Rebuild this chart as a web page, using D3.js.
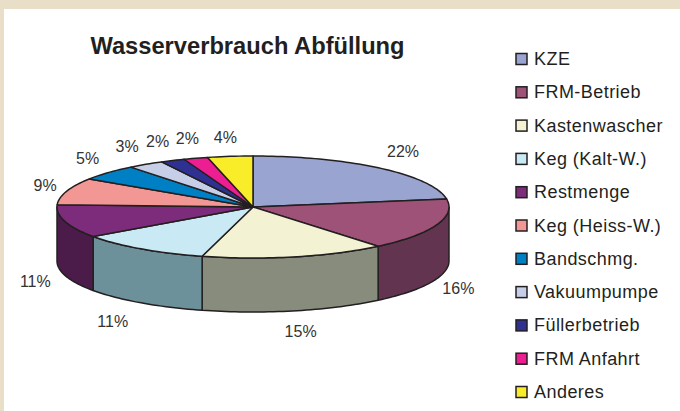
<!DOCTYPE html>
<html>
<head>
<meta charset="utf-8">
<title>Wasserverbrauch Abfüllung</title>
<script src="https://d3js.org/d3.v7.min.js"></script>
<style>
  html, body { margin: 0; padding: 0; background: #fff; }
  svg { display: block; }
  text { font-family: "Liberation Sans", Arial, sans-serif; fill: #231f20; }
</style>
</head>
<body>
<script>
// categories and shares
var categories = ["KZE", "FRM-Betrieb", "Kastenwascher", "Keg (Kalt-W.)", "Restmenge", "Keg (Heiss-W.)",
                  "Bandschmg.", "Vakuumpumpe", "Füllerbetrieb", "FRM Anfahrt", "Anderes"];
var values = [22.49, 16.49, 15.2, 11, 10.5, 8.6, 5, 3, 2, 2, 3.72];
var topColors = ["#9aa4d0", "#9f5277", "#f3f2d3", "#c9e9f5", "#7c2c7a", "#f29793",
                 "#0080c4", "#c7cfe8", "#2e3192", "#ec1e92", "#f9ec28"];
var sideColors = ["#6f7699", "#63344f", "#878c7c", "#6d919b", "#4b1c4a", "#a86a67",
                  "#005a8a", "#8c91a3", "#1f2166", "#a51566", "#ada41c"];

var width = 680, height = 411;
var dark = "#231f20";

var svg = d3.select("body").append("svg")
  .attr("width", width)
  .attr("height", height);

// beige frame, top and left only
svg.append("rect").attr("width", width).attr("height", height).attr("fill", "#e9dfc9");
svg.append("rect").attr("x", 4).attr("y", 9).attr("width", width).attr("height", height).attr("fill", "#fff");

svg.append("text")
  .attr("x", 247.5)
  .attr("y", 54)
  .attr("text-anchor", "middle")
  .style("font-size", "23.7px")
  .style("font-weight", "bold")
  .text("Wasserverbrauch Abfüllung");

// pie geometry
var cx = 253, cy = 207, rx = 196, ry = 51, depth = 54;

var pie = d3.pie().sort(null);
var slices = pie(values);

function px(a, r) { return cx + (r || rx) * Math.sin(a); }
function py(a, r) { return cy - (r || ry) * Math.cos(a); }

// points along the rim between two angles
function rim(a0, a1, dy) {
  var n = Math.max(2, Math.ceil((a1 - a0) * 40));
  return d3.range(n + 1).map(function(i) {
    var a = a0 + (a1 - a0) * i / n;
    return [px(a), py(a) + (dy || 0)];
  });
}
var line = d3.line();

// side wall, only the front half is visible
svg.append("g").selectAll("path")
  .data(slices.filter(function(d) { return d.endAngle > Math.PI / 2 && d.startAngle < Math.PI * 1.5; }))
  .enter().append("path")
  .attr("d", function(d) {
    var a0 = Math.max(d.startAngle, Math.PI / 2), a1 = Math.min(d.endAngle, Math.PI * 1.5);
    return line(rim(a0, a1, 0).concat(rim(a0, a1, depth).reverse())) + "Z";
  })
  .attr("fill", function(d) { return sideColors[d.index]; })
  .attr("stroke", dark)
  .attr("stroke-width", 1.5)
  .attr("stroke-linejoin", "round");

// top surface
svg.append("g").selectAll("path")
  .data(slices)
  .enter().append("path")
  .attr("d", function(d) {
    return line([[cx, cy]].concat(rim(d.startAngle, d.endAngle, 0))) + "Z";
  })
  .attr("fill", function(d) { return topColors[d.index]; })
  .attr("stroke", dark)
  .attr("stroke-width", 1.5)
  .attr("stroke-linejoin", "round");

// percent labels sit on a wider ellipse, front ones below the wall
// small nudges per label so they land where the original put them
var labelDx = [2, -8, -1, -10, 1, 9, 3, -1, -2, 1, -1];
var labelDy = [0, 1, -1, 0, -1, 0, 0, 0, 1, 1, 3];

svg.append("g").selectAll("text")
  .data(slices)
  .enter().append("text")
  .attr("x", function(d) { return px((d.startAngle + d.endAngle) / 2, 228) + labelDx[d.index]; })
  .attr("y", function(d) {
    var a = (d.startAngle + d.endAngle) / 2;
    return py(a, 73) + (Math.cos(a) < 0 ? depth : 0) + 6 + labelDy[d.index];
  })
  .attr("text-anchor", "middle")
  .style("font-size", "16px")
  .style("fill", "#333")
  .text(function(d) { return Math.round(d.value) + "%"; });

// legend
var legendY = d3.scalePoint().domain(categories).range([59, 392]);

var legend = svg.append("g").selectAll("g")
  .data(categories)
  .enter().append("g")
  .attr("transform", function(d) { return "translate(516," + legendY(d) + ")"; });

legend.append("rect")
  .attr("x", 0)
  .attr("y", -5.5)
  .attr("width", 11)
  .attr("height", 11)
  .attr("fill", function(d, i) { return topColors[i]; })
  .attr("stroke", dark)
  .attr("stroke-width", 1.5);

legend.append("text")
  .attr("x", 18)
  .attr("y", 6)
  .style("font-size", "18px")
  .style("letter-spacing", "0.45px")
  .text(function(d) { return d; });
</script>
</body>
</html>
